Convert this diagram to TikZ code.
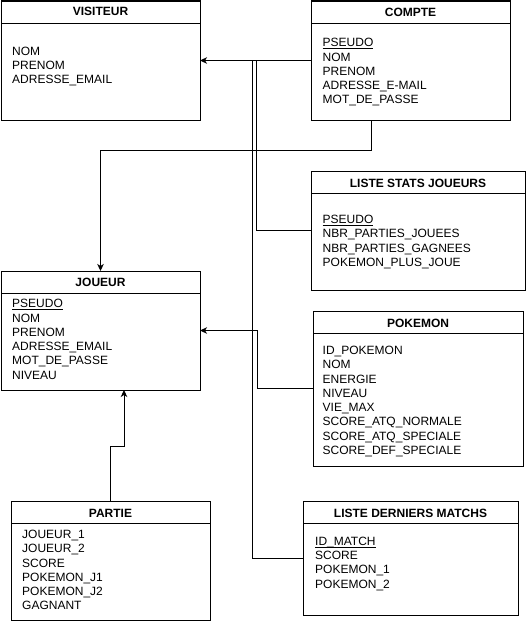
\documentclass[tikz,border=0pt]{standalone}
\usepackage{fontspec}
\setmainfont{Liberation Sans}
\usetikzlibrary{arrows.meta}
\begin{document}
\begin{tikzpicture}[x=1pt,y=-1pt,
  tbl/.style={draw, line width=1pt, inner sep=0pt, outer sep=0pt},
  ttl/.style={anchor=base, inner sep=0pt, font=\fontsize{12}{14.25}\selectfont\bfseries},
  fld/.style={align=left, anchor=north west, inner sep=0pt, font=\fontsize{12}{14.25}\selectfont},
  conn/.style={line width=1pt},
  arr/.style={conn, -{Stealth[length=7pt,width=6.5pt,inset=2pt]}}]
\useasboundingbox (0,0) rectangle (526,621);
% tables
\node[tbl, minimum width=199pt, minimum height=119pt] (visiteur) at (100.5,60.5) {};
\node[tbl, minimum width=199pt, minimum height=119pt] (compte) at (410.5,60.5) {};
\node[tbl, minimum width=214pt, minimum height=119pt] (stats) at (418,230.5) {};
\node[tbl, minimum width=199pt, minimum height=119pt] (joueur) at (100.5,330.5) {};
\node[tbl, minimum width=210pt, minimum height=155pt] (pokemon) at (418,388.5) {};
\node[tbl, minimum width=215pt, minimum height=114pt] (matchs) at (410.5,558) {};
\node[tbl, minimum width=199pt, minimum height=119pt] (partie) at (110.5,560.5) {};
% header lines
\foreach \n in {visiteur,compte,stats,joueur,pokemon,matchs,partie}
  \draw[conn] ([yshift=-22.5pt]\n.north west) -- ([yshift=-22.5pt]\n.north east);
% titles
\node[ttl] (tv) at (100.5,16) {VISITEUR};
\node[ttl] (tc) at (410.5,16.5) {COMPTE};
\node[ttl] (ts) at (418,187) {LISTE STATS JOUEURS};
\node[ttl] (tj) at (100.5,286) {JOUEUR};
\node[ttl] (tp) at (418,327) {POKEMON};
\node[ttl] (tm) at (410.5,517) {LISTE DERNIERS MATCHS};
\node[ttl] (tpa) at (110.5,517) {PARTIE};
% fields
\node[fld] (fv) at (12,46.7) {NOM\\PRENOM\\ADRESSE\_EMAIL};
\node[fld] (fc) at (322.5,38.3) {\underline{PSEUDO}\\NOM\\PRENOM\\ADRESSE\_E-MAIL\\MOT\_DE\_PASSE};
\node[fld] (fs) at (322.5,215) {\underline{PSEUDO}\\NBR\_PARTIES\_JOUEES\\NBR\_PARTIES\_GAGNEES\\POKEMON\_PLUS\_JOUE};
\node[fld] (fj) at (12,299.3) {\underline{PSEUDO}\\NOM\\PRENOM\\ADRESSE\_EMAIL\\MOT\_DE\_PASSE\\NIVEAU};
\node[fld] (fp) at (322.5,346) {ID\_POKEMON\\NOM\\ENERGIE\\NIVEAU\\VIE\_MAX\\SCORE\_ATQ\_NORMALE\\SCORE\_ATQ\_SPECIALE\\SCORE\_DEF\_SPECIALE};
\node[fld] (fm) at (315,536.7) {\underline{ID\smash{\_}MATCH}\\SCORE\\POKEMON\_1\\POKEMON\_2};
\node[fld] (fpa) at (22,530) {JOUEUR\_1\\JOUEUR\_2\\SCORE\\POKEMON\_J1\\POKEMON\_J2\\GAGNANT};
% connectors
\coordinate (ja) at (256,60.5);
\coordinate (jb) at (252,60.5);
\draw[arr] (compte.west) -- (visiteur.east);
\draw[arr] ([xshift=-39.5pt]compte.south) -- ++(0,30) -| (joueur.north);
\draw[conn] (stats.west) -| (ja);
\draw[conn] (matchs.west) -| (jb);
\draw[arr] (pokemon.west) -- (257,388.5) |- (joueur.east);
\draw[arr] (partie.north) |- (124,446) -- (joueur.south -| 124,0);
\end{tikzpicture}
\end{document}
